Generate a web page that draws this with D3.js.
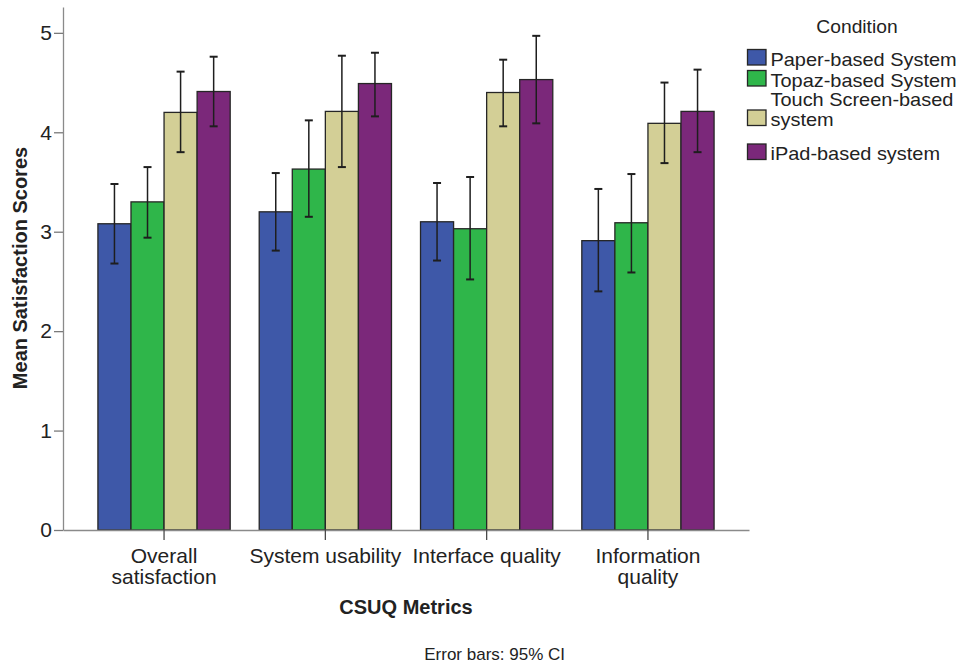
<!DOCTYPE html>
<html>
<head>
<meta charset="utf-8">
<script src="https://cdn.jsdelivr.net/npm/d3@7"></script>
<style>
  html, body { margin: 0; padding: 0; background: #fff; }
  svg { display: block; font-family: "Liberation Sans", Arial, sans-serif; }
</style>
</head>
<body>
<svg id="chart" width="968" height="671"></svg>
<script>
// CSUQ metric groups along the x axis
const categories = ["Overall satisfaction", "System usability", "Interface quality", "Information quality"];
const categoryLines = [["Overall", "satisfaction"], ["System usability"], ["Interface quality"], ["Information", "quality"]];

// Conditions (one bar per condition inside each group)
const conditions = ["Paper-based System", "Topaz-based System", "Touch Screen-based system", "iPad-based system"];
const conditionLines = [["Paper-based System"], ["Topaz-based System"], ["Touch Screen-based", "system"], ["iPad-based system"]];
const colors = ["#3e58a8", "#2fb64a", "#d3cf96", "#7b287a"];

// Mean satisfaction scores, per condition, in category order
const paperMean = [3.08, 3.20, 3.10, 2.91];
const topazMean = [3.30, 3.63, 3.03, 3.09];
const touchMean = [4.20, 4.21, 4.40, 4.09];
const ipadMean  = [4.41, 4.49, 4.53, 4.21];

// 95% confidence interval bounds
const paperLow  = [2.68, 2.81, 2.71, 2.40];
const paperHigh = [3.48, 3.59, 3.49, 3.43];
const topazLow  = [2.94, 3.15, 2.52, 2.59];
const topazHigh = [3.65, 4.12, 3.55, 3.58];
const touchLow  = [3.80, 3.65, 4.06, 3.69];
const touchHigh = [4.61, 4.77, 4.73, 4.50];
const ipadLow   = [4.06, 4.16, 4.09, 3.80];
const ipadHigh  = [4.76, 4.80, 4.97, 4.63];

const yTicks = [0, 1, 2, 3, 4, 5];

const means = [paperMean, topazMean, touchMean, ipadMean];
const lows = [paperLow, topazLow, touchLow, ipadLow];
const highs = [paperHigh, topazHigh, touchHigh, ipadHigh];

const svg = d3.select("#chart");
const plotLeft = 63, plotRight = 749, plotTop = 7, plotBottom = 530;

const x0 = d3.scaleBand().domain(categories).range([plotLeft, plotRight])
  .paddingInner(0.18).paddingOuter(0.2165);
const x1 = d3.scaleBand().domain(conditions).range([0, x0.bandwidth()]).padding(0);
const y = d3.scaleLinear().domain([0, 5.26]).range([plotBottom, plotTop]);

// Bars
const rows = [];
categories.forEach((c, ci) => {
  conditions.forEach((k, ki) => {
    rows.push({ c, k, ki, mean: means[ki][ci], lo: lows[ki][ci], hi: highs[ki][ci] });
  });
});

const plot = svg.append("g");
plot.selectAll("rect.bar").data(rows).join("rect")
  .attr("class", "bar")
  .attr("x", d => x0(d.c) + x1(d.k))
  .attr("y", d => y(d.mean))
  .attr("width", x1.bandwidth())
  .attr("height", d => y(0) - y(d.mean))
  .attr("fill", d => colors[d.ki])
  .attr("stroke", "#262626")
  .attr("stroke-width", 1.3);

// Error bars (95% CI)
const eb = plot.selectAll("g.err").data(rows).join("g").attr("class", "err")
  .attr("transform", d => `translate(${x0(d.c) + x1(d.k) + x1.bandwidth() / 2},0)`)
  .attr("stroke", "#1e1e1e").attr("stroke-width", 1.5);
eb.append("line").attr("x1", 0).attr("x2", 0).attr("y1", d => y(d.lo)).attr("y2", d => y(d.hi));
eb.append("line").attr("x1", -4).attr("x2", 4).attr("y1", d => y(d.hi)).attr("y2", d => y(d.hi)).attr("stroke-width", 2);
eb.append("line").attr("x1", -4).attr("x2", 4).attr("y1", d => y(d.lo)).attr("y2", d => y(d.lo)).attr("stroke-width", 2);

// Y axis
const yAxis = svg.append("g").attr("transform", `translate(${plotLeft},0)`)
  .call(d3.axisLeft(y).tickValues(yTicks).tickFormat(d3.format("d")).tickSize(9).tickSizeOuter(0).tickPadding(2));
yAxis.select(".domain").attr("stroke", "#8a8a8a").attr("stroke-width", 1.3);
yAxis.selectAll(".tick line").attr("stroke", "#7a7a7a").attr("stroke-width", 1.3);
yAxis.selectAll(".tick text").attr("font-size", 21).attr("fill", "#222")
  .attr("font-family", "Liberation Sans, Arial, sans-serif");

// X axis
const xAxis = svg.append("g").attr("transform", `translate(0,${plotBottom})`)
  .call(d3.axisBottom(x0).tickSize(10).tickSizeOuter(0).tickFormat(""));
xAxis.select(".domain").attr("stroke", "#8a8a8a").attr("stroke-width", 1.3);
xAxis.selectAll(".tick line").attr("stroke", "#4a4a4a").attr("stroke-width", 1.3);

// Category labels (wrapped)
const catLabels = svg.append("g").attr("font-size", 21).attr("fill", "#222").attr("text-anchor", "middle");
categories.forEach((c, i) => {
  const cx = x0(c) + x0.bandwidth() / 2;
  const t = catLabels.append("text").attr("x", cx).attr("y", 563);
  categoryLines[i].forEach((line, j) => {
    t.append("tspan").attr("x", cx).attr("dy", j === 0 ? 0 : 21).text(line);
  });
});

// Axis titles
svg.append("text")
  .attr("transform", "translate(27,268) rotate(-90)")
  .attr("text-anchor", "middle").attr("font-size", 20).attr("font-weight", "bold").attr("fill", "#222")
  .text("Mean Satisfaction Scores");

svg.append("text")
  .attr("x", (plotLeft + plotRight) / 2).attr("y", 614)
  .attr("text-anchor", "middle").attr("font-size", 20).attr("font-weight", "bold").attr("fill", "#222")
  .text("CSUQ Metrics");

svg.append("text")
  .attr("x", 565).attr("y", 660)
  .attr("text-anchor", "end").attr("font-size", 17).attr("fill", "#222")
  .text("Error bars: 95% CI");

// Legend
const legend = svg.append("g").attr("fill", "#222");
legend.append("text").attr("x", 857).attr("y", 33).attr("text-anchor", "middle")
  .attr("font-size", 17.5).attr("transform", "translate(857,0) scale(1.1,1) translate(-857,0)")
  .text("Condition");

const swatchY = [49.5, 70.5, 110, 144];
conditions.forEach((k, i) => {
  const g = legend.append("g");
  g.append("rect").attr("x", 747.5).attr("y", swatchY[i]).attr("width", 18.5).attr("height", 15.5)
    .attr("fill", colors[i]).attr("stroke", "#262626").attr("stroke-width", 1.3);
  const lines = conditionLines[i];
  const firstBase = lines.length === 1 ? swatchY[i] + 16.5 : swatchY[i] - 4;
  const t = g.append("text").attr("x", 770.5).attr("y", firstBase).attr("font-size", 17.5)
    .attr("transform", "translate(770.5,0) scale(1.14,1) translate(-770.5,0)");
  lines.forEach((line, j) => {
    t.append("tspan").attr("x", 770.5).attr("dy", j === 0 ? 0 : 20).text(line);
  });
});
</script>
</body>
</html>
